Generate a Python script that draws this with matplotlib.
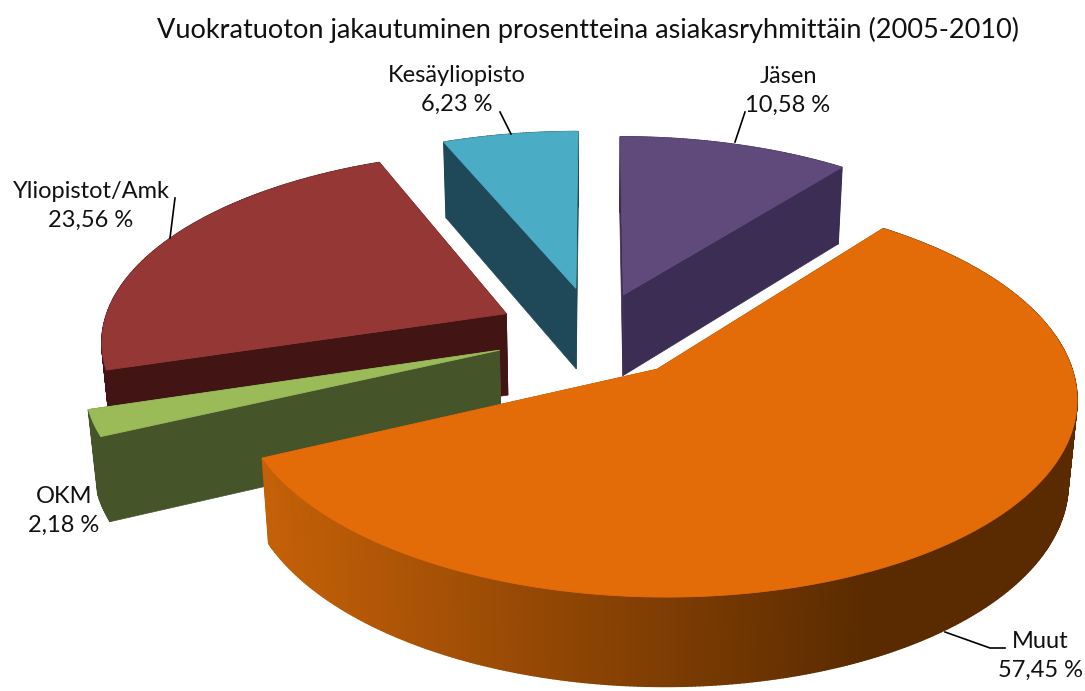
import numpy as np
import matplotlib
matplotlib.use('Agg')
import matplotlib.pyplot as plt
from matplotlib.patches import Polygon
from matplotlib.colors import to_rgb

title = 'Vuokratuoton jakautuminen prosentteina asiakasryhmittäin (2005-2010)'
names = ['Jäsen', 'Muut', 'OKM', 'Yliopistot/Amk', 'Kesäyliopisto']
values = [10.58, 57.45, 2.18, 23.56, 6.23]
top_colors = ['#604A7B', '#E36C09', '#9BBB59', '#953735', '#4BACC6']
side_colors = ['#3B2D53', '#8A4300', '#46542A', '#431414', '#1F4858']
explode = [0.22, 0.24, 0.25, 0.245, 0.25]
draw_order = [4, 0, 3, 2, 1]

# where each label goes, in pixels
label_pos = [(788, 91), (1040, 656), (64, 511), (91, 206), (457, 90)]
leaders = [
    [(745, 112), (735, 142)],
    [(945, 632), (990, 648), (1005, 648)],
    [],
    [(175, 198), (170, 238)],
    [(500, 112), (511, 134)],
]

# projection of the tilted pie
CX, CY = 595, 333
RX, RY = 405, 188
DEPTH = 82
K, K2, M = 0.13, 0.07, 0.018


def project(x, y, z=0.0):
    sx = CX + RX * x / (1 + K * y + M * z)
    sy = CY - RY * y / (1 + K * y) + DEPTH * z / (1 + K2 * y)
    return sx, sy


def shade(c1, c2, t):
    a, b = np.array(to_rgb(c1)), np.array(to_rgb(c2))
    return tuple(a + (b - a) * t)


def draw_slice(ax, start, stop, off, top_c, side_c, gradient=False):
    mid = np.radians((start + stop) / 2)
    ox, oy = off * np.sin(mid), off * np.cos(mid)
    ang = np.radians(np.linspace(start, stop, int(stop - start) * 2 + 2))
    xs = ox + np.sin(ang)
    ys = oy + np.cos(ang)

    apex_t, apex_b = project(ox, oy), project(ox, oy, 1)
    for i in (0, -1):
        wall = [apex_t, project(xs[i], ys[i]), project(xs[i], ys[i], 1), apex_b]
        ax.add_patch(Polygon(wall, fc=side_c, ec=side_c, lw=0.5, zorder=2))

    for i in range(len(ang) - 1):
        quad = [project(xs[i], ys[i]), project(xs[i + 1], ys[i + 1]),
                project(xs[i + 1], ys[i + 1], 1), project(xs[i], ys[i], 1)]
        c = side_c
        if gradient:
            t = np.clip((quad[0][0] - 270) / 600, 0, 1)
            c = shade('#C46008', '#5A2B00', t)
        ax.add_patch(Polygon(quad, fc=c, ec=c, lw=1.0, zorder=2))

    outline = [apex_t] + [project(x, y) for x, y in zip(xs, ys)]
    ax.add_patch(Polygon(outline, fc=top_c, ec=top_c, lw=0.6, zorder=2))


fig = plt.figure(figsize=(10.85, 6.91), dpi=100)
ax = fig.add_axes([0, 0, 1, 1])
ax.set_xlim(0, 1085)
ax.set_ylim(691, 0)
ax.axis('off')

edges = np.cumsum([0] + values) / sum(values) * 360
for i in draw_order:
    draw_slice(ax, edges[i], edges[i + 1], explode[i], top_colors[i],
               side_colors[i], gradient=names[i] == 'Muut')

font = 'Lato'
ax.text(588, 30, title, ha='center', va='center', fontsize=19.5, family=font, color='#111111')
for i, name in enumerate(names):
    pct = f'{values[i]:.2f}'.replace('.', ',') + ' %'
    ax.text(label_pos[i][0], label_pos[i][1], name + '\n' + pct, ha='center', va='center',
            fontsize=17, family=font, color='#111111', linespacing=1.5, zorder=5)
    if leaders[i]:
        ax.plot(*zip(*leaders[i]), color='black', lw=1.2, zorder=4)

fig.savefig('out.png', dpi=100)
